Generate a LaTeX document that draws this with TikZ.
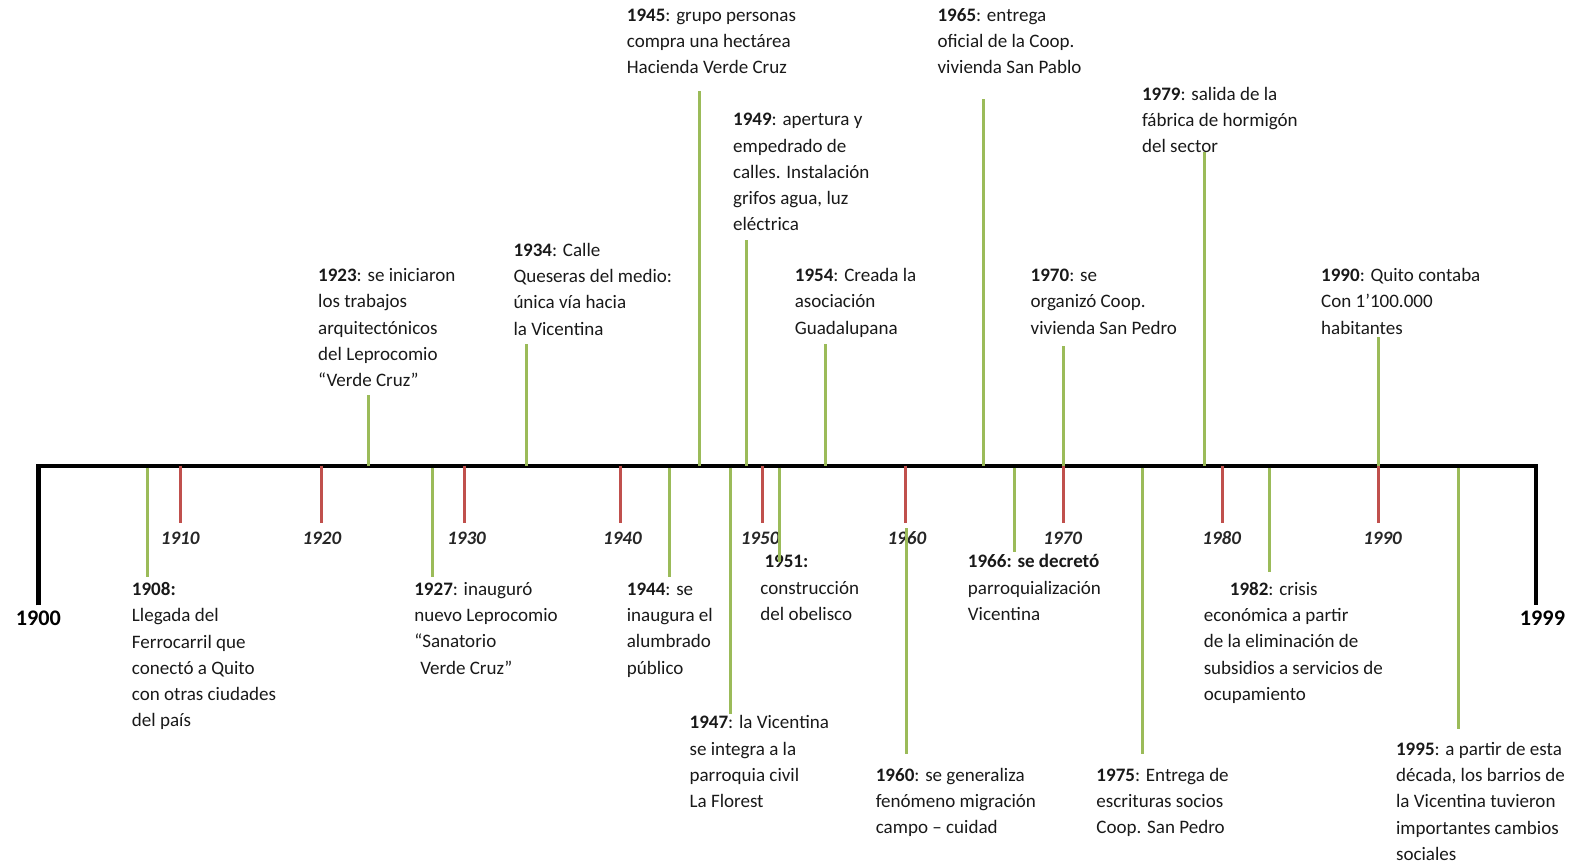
\documentclass[tikz,border=0pt]{standalone}
\usepackage{fontspec}
\setmainfont{Carlito}
\usetikzlibrary{positioning}

\definecolor{evgreen}{HTML}{9BBB59}
\definecolor{tickred}{HTML}{C0504D}

\tikzset{
    axisline/.style={line width=2.3pt, black},
    decadetick/.style={line width=1.7pt, tickred},
    eventline/.style={line width=1.7pt, evgreen},
    decadelabel/.style={font=\fontsize{10.7}{13}\selectfont\bfseries\itshape, text=black!85, inner sep=0pt},
    endyear/.style={font=\fontsize{12.5}{15}\selectfont\bfseries, inner sep=0pt},
    % base of a multi-line node = baseline of its last line
    eventtext/.style={font=\fontsize{10.7}{14.75}\selectfont, align=left, anchor=base west, inner sep=0pt, text=black!90}
}

\begin{document}
\begin{tikzpicture}[x=0.02cm, y=-0.02cm]
    \useasboundingbox (0,0) rectangle (1568,855);

    % Main axis with both ends bent down
    \coordinate (axL) at (38,460);
    \coordinate (axR) at (1518,460);
    \draw[axisline] (38,598) -- (axL) -- (axR) -- (1518,598);
    \node[endyear] (y1900) at (38,611) {1900};
    \node[endyear] (y1999) at (1524,611) {1999};

    % Decade ticks
    \draw[decadetick] (178,460) -- (178,517);
    \node[decadelabel] (l1910) at (178,532) {1910};
    \draw[decadetick] (318,460) -- (318,517);
    \node[decadelabel] (l1920) at (318,532) {1920};
    \draw[decadetick] (459,460) -- (459,517);
    \node[decadelabel] (l1930) at (461,532) {1930};
    \draw[decadetick] (613,460) -- (613,517);
    \node[decadelabel] (l1940) at (615,532) {1940};
    \draw[decadetick] (753,460) -- (753,517);
    \node[decadelabel] (l1950) at (751,532) {1950};
    \draw[decadetick] (895,460) -- (895,517);
    \node[decadelabel] (l1960) at (896,532) {1960};
    \draw[decadetick] (1051,460) -- (1051,517);
    \node[decadelabel] (l1970) at (1050,532) {1970};
    \draw[decadetick] (1208,460) -- (1208,517);
    \node[decadelabel] (l1980) at (1207,532) {1980};
    \draw[decadetick] (1362,460) -- (1362,517);
    \node[decadelabel] (l1990) at (1366,532) {1990};

    % Events above the axis
    \node[eventtext] (e1923) at (314,382) {\textbf{1923}: se iniciaron\\los trabajos\\arquitectónicos\\del Leprocomio\\“Verde Cruz”};
    \coordinate (a1923) at (364,460);
    \coordinate (b1923) at (364,390);
    \draw[eventline] (a1923) -- (b1923);

    \node[eventtext] (e1934) at (507,331) {\textbf{1934}: Calle\\Queseras del medio:\\única vía hacia\\la Vicentina};
    \coordinate (a1934) at (520,460);
    \coordinate (b1934) at (520,340);
    \draw[eventline] (a1934) -- (b1934);

    \node[eventtext] (e1945) at (619,73) {\textbf{1945}: grupo personas\\compra una hectárea\\Hacienda Verde Cruz};
    \coordinate (a1945) at (691,460);
    \coordinate (b1945) at (691,90);
    \draw[eventline] (a1945) -- (b1945);

    \node[eventtext] (e1949) at (724,228) {\textbf{1949}: apertura y\\empedrado de\\calles. Instalación\\grifos agua, luz\\eléctrica};
    \coordinate (a1949) at (738,460);
    \coordinate (b1949) at (738,237);
    \draw[eventline] (a1949) -- (b1949);

    \node[eventtext] (e1954) at (785,330) {\textbf{1954}: Creada la\\asociación\\Guadalupana};
    \coordinate (a1954) at (816,460);
    \coordinate (b1954) at (816,340);
    \draw[eventline] (a1954) -- (b1954);

    \node[eventtext] (e1965) at (926,73) {\textbf{1965}: entrega\\oficial de la Coop.\\vivienda San Pablo};
    \coordinate (a1965) at (972,460);
    \coordinate (b1965) at (972,98);
    \draw[eventline] (a1965) -- (b1965);

    \node[eventtext] (e1970) at (1018,330) {\textbf{1970}: se\\organizó Coop.\\vivienda San Pedro};
    \coordinate (a1970) at (1051,460);
    \coordinate (b1970) at (1051,342);
    \draw[eventline] (a1970) -- (b1970);

    \node[eventtext] (e1979) at (1128,151) {\textbf{1979}: salida de la\\fábrica de hormigón\\del sector};
    \coordinate (a1979) at (1190,460);
    \coordinate (b1979) at (1190,150);
    \draw[eventline] (a1979) -- (b1979);

    \node[eventtext] (e1990) at (1305,330) {\textbf{1990}: Quito contaba\\Con 1’100.000\\habitantes};
    \coordinate (a1990) at (1362,460);
    \coordinate (b1990) at (1362,333);
    \draw[eventline] (a1990) -- (b1990);

    % Events below the axis
    \node[eventtext] (e1908) at (130,718) {\textbf{1908:}\\Llegada del\\Ferrocarril que\\conectó a Quito\\con otras ciudades\\del país};
    \coordinate (a1908) at (146,462);
    \coordinate (b1908) at (146,570);
    \draw[eventline] (a1908) -- (b1908);

    \node[eventtext] (e1927) at (409,666) {\textbf{1927}: inauguró\\nuevo Leprocomio\\“Sanatorio\\\hspace*{3.4pt}Verde Cruz”};
    \coordinate (a1927) at (427,462);
    \coordinate (b1927) at (427,570);
    \draw[eventline] (a1927) -- (b1927);

    \node[eventtext] (e1944) at (619,666) {\textbf{1944}: se\\inaugura el\\alumbrado\\público};
    \coordinate (a1944) at (661,462);
    \coordinate (b1944) at (661,570);
    \draw[eventline] (a1944) -- (b1944);

    \node[eventtext] (e1947) at (681,798) {\textbf{1947}: la Vicentina\\se integra a la\\parroquia civil\\La Florest};
    \coordinate (a1947) at (722,462);
    \coordinate (b1947) at (722,705);
    \draw[eventline] (a1947) -- (b1947);

    \node[eventtext] (e1951) at (751,613) {\hspace*{2.3pt}\textbf{1951:}\\construcción\\del obelisco};
    \coordinate (a1951) at (770,462);
    \coordinate (b1951) at (770,555);
    \draw[eventline] (a1951) -- (b1951);

    \node[eventtext] (e1960) at (865,824) {\textbf{1960}: se generaliza\\fenómeno migración\\campo – cuidad};
    \coordinate (a1960) at (896,522);
    \coordinate (b1960) at (896,745);
    \draw[eventline] (a1960) -- (b1960);

    \node[eventtext] (e1966) at (956,613) {\textbf{1966: se decretó}\\parroquialización\\Vicentina};
    \coordinate (a1966) at (1002,462);
    \coordinate (b1966) at (1002,545);
    \draw[eventline] (a1966) -- (b1966);

    \node[eventtext] (e1975) at (1083,824) {\textbf{1975}: Entrega de\\escrituras socios\\Coop. San Pedro};
    \coordinate (a1975) at (1129,462);
    \coordinate (b1975) at (1129,745);
    \draw[eventline] (a1975) -- (b1975);

    \node[eventtext] (e1982) at (1189,692) {\hspace*{14.7pt}\textbf{1982}: crisis\\económica a partir\\de la eliminación de\\subsidios a servicios de\\ocupamiento};
    \coordinate (a1982) at (1254,462);
    \coordinate (b1982) at (1254,565);
    \draw[eventline] (a1982) -- (b1982);

    \node[eventtext] (e1995) at (1379,850) {\textbf{1995}: a partir de esta\\década, los barrios de\\la Vicentina tuvieron\\importantes cambios\\sociales};
    \coordinate (a1995) at (1441,462);
    \coordinate (b1995) at (1441,720);
    \draw[eventline] (a1995) -- (b1995);
\end{tikzpicture}
\end{document}
